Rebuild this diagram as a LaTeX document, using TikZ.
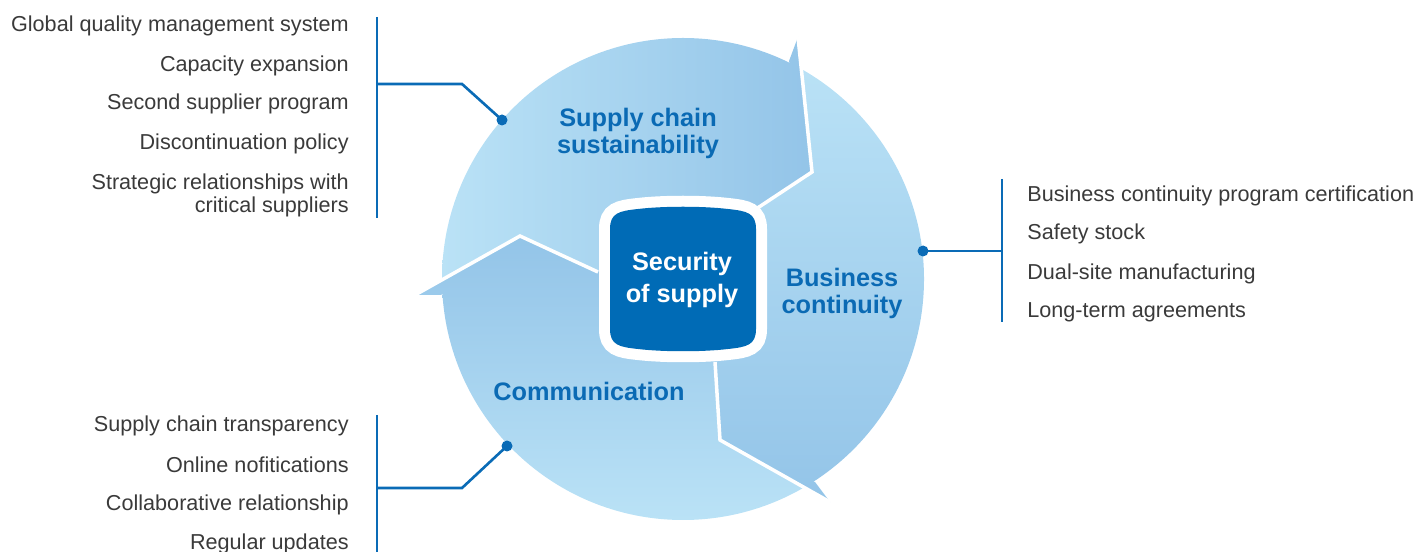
\documentclass[tikz,border=0pt]{standalone}
\usepackage{fontspec}
\setmainfont{Liberation Sans}
\definecolor{lite}{HTML}{BAE2F6}
\definecolor{deep}{HTML}{93C4E8}
\definecolor{headblue}{HTML}{0A6AB4}
\definecolor{boxblue}{HTML}{006BB6}
\definecolor{lineblue}{HTML}{0A6BB6}
\definecolor{textgray}{HTML}{3A3A3A}
\tikzset{
  item/.style={font=\fontsize{12.3}{13.3}\selectfont, text=textgray, inner sep=0pt},
  head/.style={font=\fontsize{14.4}{15.4}\selectfont\bfseries, text=headblue, align=center, inner sep=0pt},
  core/.style={font=\fontsize{14.4}{18}\selectfont\bfseries, text=white, align=center, inner sep=0pt},
  lead/.style={draw=lineblue, line width=1.5pt},
  dot/.style={circle, fill=lineblue, inner sep=0pt, minimum size=0.22cm},
  gap/.style={draw=white, line width=2pt},
  sustain/.style={left color=lite, right color=deep},
  contin/.style={top color=lite, bottom color=deep},
  commun/.style={top color=deep, bottom color=lite},
}
\begin{document}
\begin{tikzpicture}[x=0.02cm, y=0.02cm]
  \useasboundingbox (0,0) rectangle (1419,551);

  % centre of the ring and the three arrow heads (tip, barb, apex, inner end)
  \coordinate (O) at (683,272);
  \coordinate (sT) at (798,514); \coordinate (sB) at (789,490);
  \coordinate (sA) at (812,379); \coordinate (sI) at (756,342);
  \coordinate (sE) at (784,649);
  \coordinate (bT) at (830,49);  \coordinate (bB) at (815,69);
  \coordinate (bA) at (720,111); \coordinate (bI) at (715,189);
  \coordinate (bE) at (940,-13);
  \coordinate (cT) at (415,256); \coordinate (cB) at (441,256);
  \coordinate (cA) at (520,315); \coordinate (cI) at (598,279);
  \coordinate (cE) at (310,196);

  % supply chain sustainability
  \begin{scope}
    \clip (O) circle[radius=241];
    \clip (O) -- (cI) -- (cA) -- (cT) -- (cE) -- (100,196) -- (100,800)
      -- (784,800) -- (sE) -- (sT) -- (sA) -- (sI) -- cycle;
    \shade[sustain] (441,250) rectangle (815,520);
  \end{scope}
  \begin{scope}
    \clip (sB) -- (sT) -- (sA) -- cycle;
    \shade[sustain] (441,250) rectangle (815,520);
  \end{scope}

  % business continuity
  \begin{scope}
    \clip (O) circle[radius=241];
    \clip (O) -- (sI) -- (sA) -- (sT) -- (sE) -- (1100,649) -- (1100,-100)
      -- (940,-100) -- (bE) -- (bT) -- (bA) -- (bI) -- cycle;
    \shade[contin] (680,45) rectangle (925,490);
  \end{scope}
  \begin{scope}
    \clip (bB) -- (bT) -- (bA) -- cycle;
    \shade[contin] (680,45) rectangle (925,490);
  \end{scope}

  % communication
  \begin{scope}
    \clip (O) circle[radius=241];
    \clip (O) -- (bI) -- (bA) -- (bT) -- (bE) -- (940,-100) -- (100,-100)
      -- (100,196) -- (cE) -- (cT) -- (cA) -- (cI) -- cycle;
    \shade[commun] (415,31) rectangle (830,316);
  \end{scope}
  \begin{scope}
    \clip (cB) -- (cT) -- (cA) -- cycle;
    \shade[commun] (415,31) rectangle (830,316);
  \end{scope}

  \draw[gap] (sT) -- (sA) -- (sI);
  \draw[gap] (bT) -- (bA) -- (bI);
  \draw[gap] (cT) -- (cA) -- (cI);

  % centre box
  \begin{scope}[shift={(683,272)}]
    \fill[boxblue, preaction={draw=white, line width=0.44cm}]
      (-73,-50) -- (-73,50) .. controls (-73,66) and (-64,68) .. (-45,70)
      .. controls (-20,73) and (20,73) .. (45,70)
      .. controls (64,68) and (73,66) .. (73,50) -- (73,-50)
      .. controls (73,-66) and (64,-68) .. (45,-70)
      .. controls (20,-73) and (-20,-73) .. (-45,-70)
      .. controls (-64,-68) and (-73,-66) .. (-73,-50) -- cycle;
  \end{scope}
  \node[core] (core) at (682,271) {Security\\of supply};

  \node[head] (sust) at (638,418) {Supply chain\\sustainability};
  \node[head] (cont) at (842,258) {Business\\continuity};
  \node[head] (comm) at (589,160) {Communication};

  % leaders
  \node[dot] (dotS) at (502,431) {};
  \node[dot] (dotB) at (923,300) {};
  \node[dot] (dotC) at (507,105) {};
  \coordinate (kneeS) at (462,467);
  \coordinate (barS) at (377,467);
  \coordinate (barSt) at (377,534);
  \coordinate (barSb) at (377,333);
  \coordinate (barB) at (1002,300);
  \coordinate (barBt) at (1002,372);
  \coordinate (barBb) at (1002,229);
  \coordinate (kneeC) at (462,63);
  \coordinate (barC) at (377,63);
  \coordinate (barCt) at (377,136);
  \coordinate (barCb) at (377,-5);
  \draw[lead] (dotS.center) -- (kneeS) -- (barS);
  \draw[lead] (barSt) -- (barSb);
  \draw[lead] (dotB.center) -- (barB);
  \draw[lead] (barBt) -- (barBb);
  \draw[lead] (dotC.center) -- (kneeC) -- (barC);
  \draw[lead] (barCt) -- (barCb);

  % lists
  \node[item, anchor=base east] (sq1) at (349,519) {Global quality management system};
  \node[item, anchor=base east] (sq2) at (349,479) {Capacity expansion};
  \node[item, anchor=base east] (sq3) at (349,441) {Second supplier program};
  \node[item, anchor=base east] (sq4) at (349,401) {Discontinuation policy};
  \node[item, anchor=base east, align=right] (sq5) at (349,338) {Strategic relationships with\\critical suppliers};

  \node[item, anchor=base west] (bc1) at (1027,349) {Business continuity program certification};
  \node[item, anchor=base west] (bc2) at (1027,311) {Safety stock};
  \node[item, anchor=base west] (bc3) at (1027,271) {Dual-site manufacturing};
  \node[item, anchor=base west] (bc4) at (1027,233) {Long-term agreements};

  \node[item, anchor=base east] (cm1) at (349,119) {Supply chain transparency};
  \node[item, anchor=base east] (cm2) at (349,79) {Online nofitications};
  \node[item, anchor=base east] (cm3) at (349,41) {Collaborative relationship};
  \node[item, anchor=base east] (cm4) at (349,2) {Regular updates};
\end{tikzpicture}
\end{document}
